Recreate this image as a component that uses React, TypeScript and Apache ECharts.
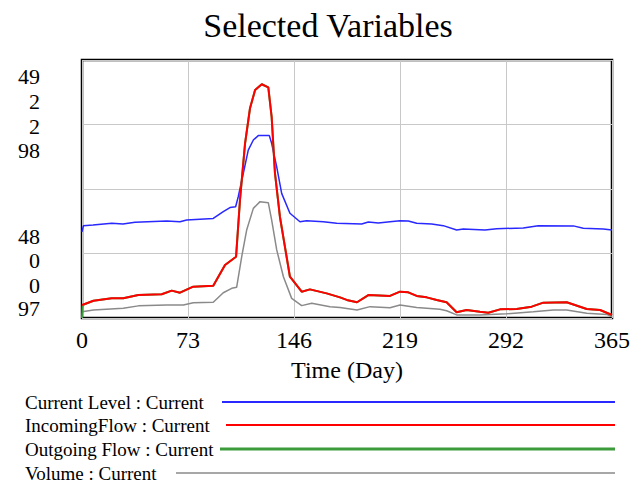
import React, { useEffect, useRef } from "react";
import * as echarts from "echarts";

const xTicks = [0, 73, 146, 219, 292, 365];
const topLabels = ["49", "2", "2", "98"];
const bottomLabels = ["48", "0", "0", "97"];
const seriesNames = [
  "Current Level : Current",
  "IncomingFlow : Current",
  "Outgoing Flow : Current",
  "Volume : Current",
];
const seriesColors = ["#2828ff", "#ff0000", "#3c9c3c", "#8a8a8a"];

const levelDays = [0, 1, 7.6, 20.5, 28.2, 36.5, 58.3, 67.5, 72.1, 90.4, 97.3, 101.9, 105.8, 107.6, 111.1, 114.5, 118, 121.4, 129, 130.6, 134.1, 137.5, 143.2, 150.1, 154.7, 166.2, 175.4, 192.6, 197.2, 204.1, 212.1, 219, 224.7, 230.5, 240.8, 248.8, 258, 262.6, 277.5, 285.6, 303.9, 314.2, 338.4, 345.2, 359, 365];
const levelValues = [48.334, 48.358, 48.36, 48.367, 48.364, 48.371, 48.376, 48.373, 48.38, 48.386, 48.412, 48.428, 48.431, 48.47, 48.561, 48.651, 48.69, 48.707, 48.707, 48.677, 48.586, 48.483, 48.406, 48.373, 48.377, 48.373, 48.367, 48.364, 48.372, 48.368, 48.373, 48.377, 48.376, 48.367, 48.364, 48.358, 48.341, 48.345, 48.341, 48.346, 48.349, 48.358, 48.357, 48.348, 48.345, 48.341];

const inflowDays = [0, 7.9, 20.5, 28.4, 38.8, 54.9, 61.8, 67.5, 76.6, 90.4, 93.9, 98.5, 106.1, 108.8, 112.3, 115.7, 119.2, 123.8, 128.3, 130.6, 132.9, 136.3, 143.2, 151.3, 157, 168.5, 177.7, 182.3, 189.4, 197.2, 212.1, 219, 224.7, 230.5, 237.4, 244.3, 251.1, 258, 264.9, 274, 279.8, 287.9, 299.3, 309.7, 317.7, 333.8, 347.6, 356.8, 365];
const inflowValues = [0.101, 0.134, 0.153, 0.153, 0.178, 0.184, 0.212, 0.196, 0.243, 0.25, 0.32, 0.411, 0.475, 0.915, 1.354, 1.626, 1.767, 1.812, 1.788, 1.56, 1.122, 0.785, 0.32, 0.204, 0.222, 0.191, 0.16, 0.14, 0.122, 0.178, 0.171, 0.204, 0.199, 0.171, 0.16, 0.14, 0.122, 0.044, 0.062, 0.049, 0.041, 0.067, 0.07, 0.088, 0.119, 0.122, 0.07, 0.062, 0.023];

const outflowDays = [0, 0.5, 7.9, 20.5, 28.4, 38.8, 54.9, 61.8, 67.5, 76.6, 90.4, 93.9, 98.5, 106.1, 108.8, 112.3, 115.7, 119.2, 123.8, 128.3, 130.6, 132.9, 136.3, 143.2, 151.3, 157, 168.5, 177.7, 182.3, 189.4, 197.2, 212.1, 219, 224.7, 230.5, 237.4, 244.3, 251.1, 258, 264.9, 274, 279.8, 287.9, 299.3, 309.7, 317.7, 333.8, 347.6, 356.8, 365];
const outflowValues = [0, 0.101, 0.134, 0.153, 0.153, 0.178, 0.184, 0.212, 0.196, 0.243, 0.25, 0.32, 0.411, 0.475, 0.915, 1.354, 1.626, 1.767, 1.812, 1.788, 1.56, 1.122, 0.785, 0.32, 0.204, 0.222, 0.191, 0.16, 0.14, 0.122, 0.178, 0.171, 0.204, 0.199, 0.171, 0.16, 0.14, 0.122, 0.044, 0.062, 0.049, 0.041, 0.067, 0.07, 0.088, 0.119, 0.122, 0.07, 0.062, 0.023];

const volumeDays = [0, 7.9, 28.4, 38.8, 58.3, 69.8, 76.6, 90.4, 97.3, 103.1, 106.5, 110, 113.4, 118, 122.6, 128.3, 130.6, 134.1, 138.7, 144.4, 151.3, 158.2, 170.8, 177.7, 189.4, 198.4, 212.1, 219, 230.5, 246.5, 251.1, 258, 274, 292.4, 310.8, 324.6, 333.8, 347.6, 361.4, 365];
const volumeValues = [97.024, 97.031, 97.038, 97.047, 97.05, 97.05, 97.059, 97.061, 97.098, 97.115, 97.119, 97.238, 97.341, 97.425, 97.451, 97.447, 97.38, 97.264, 97.16, 97.076, 97.048, 97.057, 97.044, 97.041, 97.031, 97.044, 97.04, 97.05, 97.041, 97.034, 97.028, 97.012, 97.012, 97.016, 97.024, 97.031, 97.031, 97.018, 97.014, 97.005];

const axisRanges = [
  [48, 49],
  [0, 2],
  [0, 2],
  [97, 98],
];

const pair = (d: number[], v: number[]) => d.map((x, i) => [x, v[i]]);

const FONT = "'Liberation Serif', 'Times New Roman', serif";

export default function App() {
  const ref = useRef<HTMLDivElement>(null);
  useEffect(() => {
    if (!ref.current) return;
    const chart = echarts.init(ref.current, null, { renderer: "svg" });

    const topYs = [76, 101, 126, 150];
    const botYs = [236, 260, 285, 308];
    const legendYs = [402, 425, 449, 473];
    const legendLineStart = [222, 226, 220, 176];
    const legendLineWidth = [2, 2, 3, 1.5];

    const graphic: any[] = [
      {
        type: "text",
        x: 328,
        y: 25,
        style: { text: "Selected Variables", font: `34px ${FONT}`, fill: "#000", align: "center", verticalAlign: "middle" },
      },
    ];
    topLabels.forEach((t, i) =>
      graphic.push({
        type: "text",
        x: 40,
        y: topYs[i],
        style: { text: t, font: `22px ${FONT}`, fill: "#000", align: "right", verticalAlign: "middle" },
      })
    );
    bottomLabels.forEach((t, i) =>
      graphic.push({
        type: "text",
        x: 40,
        y: botYs[i],
        style: { text: t, font: `22px ${FONT}`, fill: "#000", align: "right", verticalAlign: "middle" },
      })
    );
    seriesNames.forEach((n, i) => {
      graphic.push({
        type: "text",
        x: 25,
        y: legendYs[i],
        style: { text: n, font: `19px ${FONT}`, fill: "#000", align: "left", verticalAlign: "middle" },
      });
      graphic.push({
        type: "line",
        shape: { x1: legendLineStart[i], y1: legendYs[i], x2: 615, y2: legendYs[i] },
        style: { stroke: seriesColors[i], lineWidth: legendLineWidth[i] },
      });
    });

    const yAxis = axisRanges.map((r, i) => ({
      type: "value",
      min: r[0],
      max: r[1],
      interval: (r[1] - r[0]) / 4,
      show: i === 0,
      axisLine: { show: false },
      axisTick: { show: false },
      axisLabel: { show: false },
      splitLine: { show: i === 0, lineStyle: { color: "#c8c8c8", width: 1 } },
    }));

    const datasets = [
      pair(levelDays, levelValues),
      pair(inflowDays, inflowValues),
      pair(outflowDays, outflowValues),
      pair(volumeDays, volumeValues),
    ];
    const widths = [1.5, 2, 2, 1.5];
    const zs = [2, 4, 3, 2];

    chart.setOption({
      animation: false,
      backgroundColor: "#fff",
      grid: {
        left: 82,
        right: 28,
        top: 60,
        bottom: 169,
        show: true,
        borderColor: "#000",
        borderWidth: 2.5,
        backgroundColor: "transparent",
      },
      xAxis: {
        type: "value",
        min: 0,
        max: 365,
        interval: 73,
        axisLine: { show: false },
        axisTick: { show: false },
        axisLabel: {
          fontSize: 24,
          fontFamily: FONT,
          color: "#000",
          margin: 10,
          formatter: (v: number) => (xTicks.includes(v) ? String(v) : ""),
        },
        splitLine: { show: true, lineStyle: { color: "#c8c8c8", width: 1 } },
        name: "Time (Day)",
        nameLocation: "middle",
        nameGap: 40,
        nameTextStyle: { fontSize: 24, fontFamily: FONT, color: "#000" },
      },
      yAxis,
      graphic,
      series: datasets.map((d, i) => ({
        type: "line",
        name: seriesNames[i],
        yAxisIndex: i,
        data: d,
        showSymbol: false,
        symbol: "none",
        z: zs[i],
        lineStyle: { color: seriesColors[i], width: widths[i] },
      })),
    });
    return () => chart.dispose();
  }, []);
  return (
    <div
      ref={ref}
      style={{ position: "fixed", left: 0, top: 0, width: 640, height: 487, background: "#fff" }}
    />
  );
}
